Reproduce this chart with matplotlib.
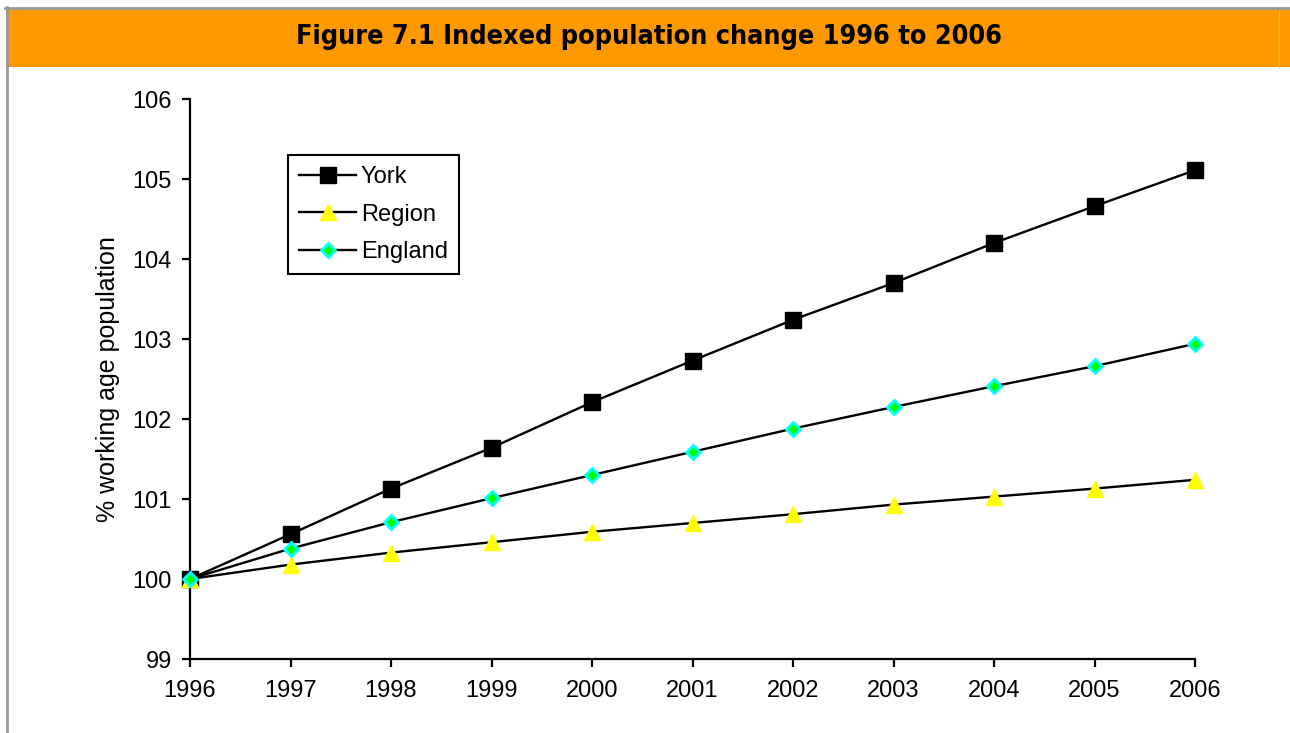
import matplotlib
matplotlib.use("Agg")
import matplotlib.pyplot as plt
from matplotlib.patches import Rectangle
from matplotlib.lines import Line2D

years = [1996, 1997, 1998, 1999, 2000, 2001, 2002, 2003, 2004, 2005, 2006]
york = [100.0, 100.56, 101.13, 101.64, 102.21, 102.73, 103.24, 103.70, 104.20, 104.66, 105.11]
region = [100.0, 100.18, 100.33, 100.46, 100.59, 100.70, 100.81, 100.93, 101.03, 101.13, 101.24]
england = [100.0, 100.38, 100.71, 101.01, 101.30, 101.59, 101.88, 102.15, 102.41, 102.66, 102.94]
y_ticks = [99, 100, 101, 102, 103, 104, 105, 106]

title = "Figure 7.1 Indexed population change 1996 to 2006"
y_label = "% working age population"

W, H = 1290, 733
fig = plt.figure(figsize=(W / 100, H / 100), dpi=100)
plt.rcParams['font.family'] = ['Liberation Sans', 'DejaVu Sans']

# orange title band and grey frame lines
fig.patches.append(Rectangle((6 / W, 1 - 67 / H), 1 - 6 / W, 58 / H,
                             transform=fig.transFigure, facecolor='#FF9900',
                             edgecolor='none', zorder=0))
fig.lines.append(Line2D([1278.5 / W, 1278.5 / W], [1 - 67 / H, 1 - 9 / H],
                        transform=fig.transFigure, color='#FFB84D', lw=0.8))
fig.lines.append(Line2D([5 / W, 1], [1 - 8 / H, 1 - 8 / H],
                        transform=fig.transFigure, color='#999999', lw=2))
fig.lines.append(Line2D([6.5 / W, 6.5 / W], [0, 1 - 7 / H],
                        transform=fig.transFigure, color='#999999', lw=2))
fig.text(649 / W, 1 - 37 / H, title, ha='center', va='center',
         fontsize=19.4, fontweight='bold', family='DejaVu Sans', stretch='condensed')

ax = fig.add_axes([190 / W, 1 - 659 / H, (1195 - 190) / W, (659 - 99) / H])
ax.plot(years, york, color='black', lw=1.7, marker='s', markersize=11.5,
        markerfacecolor='black', markeredgecolor='black', label='York', zorder=3)
ax.plot(years, region, color='black', lw=1.7, marker='^', markersize=12,
        markerfacecolor='#FFFF00', markeredgecolor='#FFFF00', label='Region', zorder=3)
ax.plot(years, england, color='black', lw=1.7, marker='D', markersize=7.5,
        markerfacecolor='#00FF00', markeredgecolor='#00FFFF', markeredgewidth=2,
        label='England', zorder=3)

ax.set_xlim(1996, 2006)
ax.set_ylim(99, 106)
ax.set_xticks(years)
ax.set_yticks(y_ticks)
ax.tick_params(axis='both', direction='out', length=6, width=1.6, labelsize=17)
ax.tick_params(axis='x', pad=9)
ax.tick_params(axis='y', pad=7)
ax.spines['top'].set_visible(False)
ax.spines['right'].set_visible(False)
ax.spines['left'].set_linewidth(1.6)
ax.spines['bottom'].set_linewidth(1.6)
ax.set_ylabel(y_label, fontsize=18, labelpad=9)
for ln in ax.lines:
    ln.set_clip_on(False)

leg = ax.legend(loc='upper left', bbox_to_anchor=((288 - 190) / (1195 - 190), (659 - 155) / 560),
                fontsize=17, frameon=True, fancybox=False, framealpha=1,
                borderpad=0.48, labelspacing=0.65, handlelength=2.4, handletextpad=0.2,
                borderaxespad=0)
leg.get_frame().set_edgecolor('black')
leg.get_frame().set_linewidth(1.5)

fig.savefig('out.png', dpi=100)
